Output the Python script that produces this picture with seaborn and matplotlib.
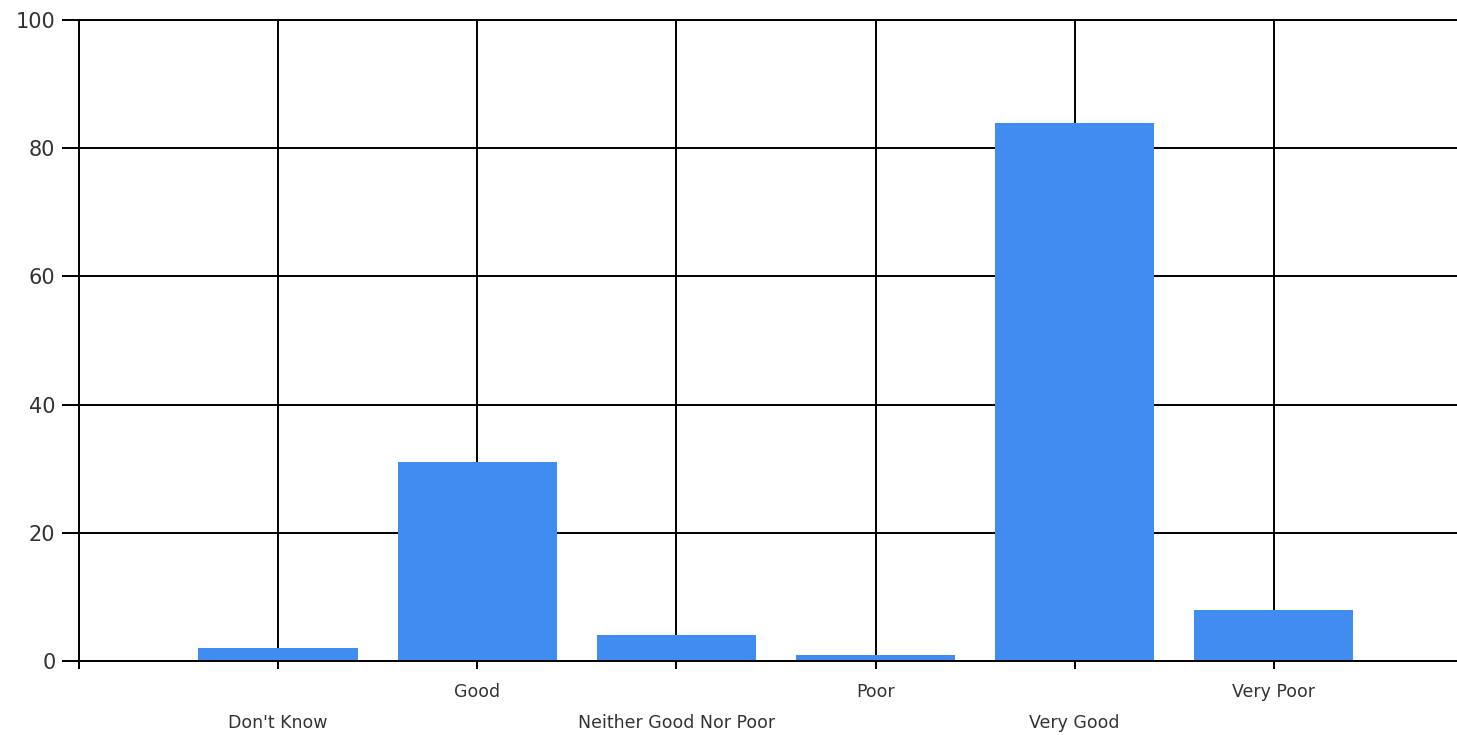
import matplotlib
matplotlib.use('agg')
import matplotlib.pyplot as plt
import seaborn as sns
import pandas as pd

sns.set_theme(style='white')
plt.rcParams['font.family'] = ['DejaVu Sans']

# --- data
categories = ["Don't Know", 'Good', 'Neither Good Nor Poor', 'Poor', 'Very Good', 'Very Poor']
counts = [2, 31, 4, 1, 84, 8]
y_ticks = [0, 20, 40, 60, 80, 100]

df = pd.DataFrame({'category': categories, 'count': counts})

fig = plt.figure(figsize=(14.57, 7.35), dpi=100)
ax = fig.add_axes([79/1457, 74/735, 1 - 79/1457, 641/735])

sns.barplot(data=df, x='category', y='count', color='#418CF0', saturation=1,
            width=0.8, linewidth=0, ax=ax)

ax.set_axisbelow(True)
ax.set_xlim(-1, 5.92)
ax.set_ylim(0, 100)
ax.set_yticks(y_ticks)
ax.set_xticks(range(-1, len(categories)))
ax.set_xticklabels([''] + categories)

ax.grid(True, color='black', linewidth=1.4)
for side in ['left', 'bottom', 'top']:
    ax.spines[side].set_color('black')
    ax.spines[side].set_linewidth(1.4)
ax.spines['right'].set_visible(False)

ax.tick_params(axis='both', which='major', direction='out', width=1.4,
               color='black', bottom=True, left=True, labelcolor='#333333')
ax.tick_params(axis='y', labelsize=15, length=12, pad=5)
ax.tick_params(axis='x', labelsize=12.5, length=6)

# staggered category labels
for i, tick in enumerate(ax.xaxis.get_major_ticks()[1:]):
    tick.set_pad(32 if i % 2 == 0 else 10)

ax.set_xlabel('')
ax.set_ylabel('')

plt.savefig('out.png', dpi=100)
plt.close(fig)
